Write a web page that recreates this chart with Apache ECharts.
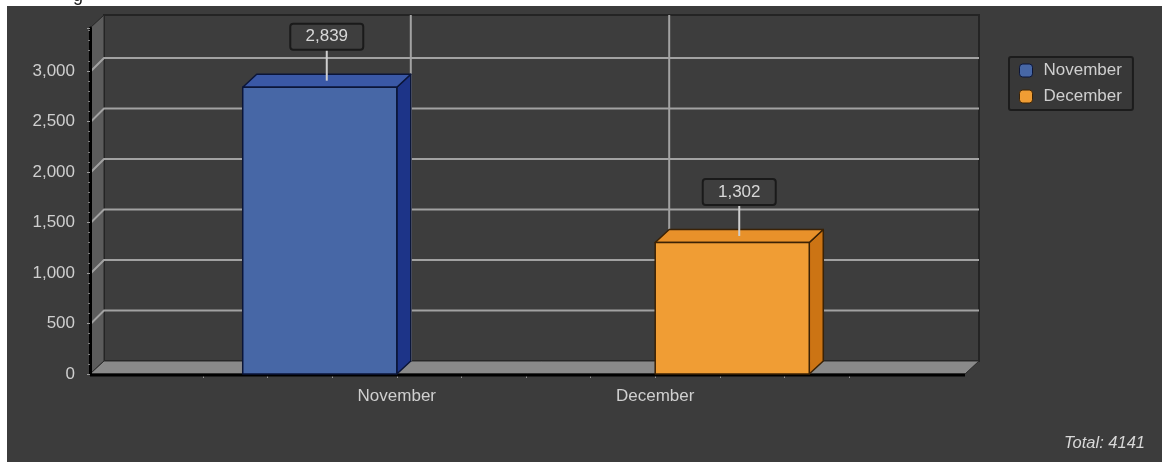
<!DOCTYPE html>
<html>
<head>
<meta charset="utf-8">
<script src="https://cdn.jsdelivr.net/npm/echarts@6/dist/echarts.min.js"></script>
<style>
  html, body { margin: 0; padding: 0; background: #fff; }
  .wrap { position: relative; width: 1162px; height: 462px; overflow: hidden; }
  .panel { position: absolute; left: 7px; top: 6px; width: 1155px; height: 456px; background: #3c3c3c; }
  #chart { position: absolute; left: 0; top: 0; width: 1162px; height: 462px; }
</style>
</head>
<body>
<div class="wrap">
  <div class="panel"></div>
  <div id="chart"></div>
</div>
<script>
// data
const months = ['November', 'December']
const visits = [2839, 1302]
const yTicks = [0, 500, 1000, 1500, 2000, 2500, 3000]
const xTickLabels = ['', '', '', 'November', '', '', '', 'December', '', '', '']

// look
const FONT = '"Liberation Sans", Arial, sans-serif'
const FS = 17
const frontColors = ['#4767a6', '#f09d34']
const topColors = ['#3a58a6', '#e8912a']
const sideColors = ['#1d3488', '#cc7414']
const edgeColors = ['#0b1538', '#3b2205']
const DX = 14, DY = -13      // depth of the fake 3d
const Y_MAX = 3425
const BAR_STEPS = 2.385      // bar width in x tick steps

const total = visits.reduce((a, b) => a + b, 0)

const chart = echarts.init(document.getElementById('chart'))

// walls, floor and grid lines
const renderFrame = (params, api) => {
  const cs = params.coordSys
  const x0 = cs.x, x1 = cs.x + cs.width
  const top = cs.y, y0 = cs.y + cs.height
  const y = api.coord([0, api.value(0)])[1]
  const children = []
  if (params.dataIndex === 0) {
    children.push({
      type: 'polygon',
      shape: { points: [[x0 + DX, top + DY], [x1 + DX, top + DY], [x1 + DX, y0 + DY], [x0 + DX, y0 + DY]] },
      style: { fill: '#3d3d3d', stroke: '#242424', lineWidth: 2 }
    })
    children.push({
      type: 'polygon',
      shape: { points: [[x0, top], [x0 + DX, top + DY], [x0 + DX, y0 + DY], [x0, y0]] },
      style: { fill: '#5c5c5c', stroke: '#262626', lineWidth: 1 }
    })
    children.push({
      type: 'polygon',
      shape: { points: [[x0, y0], [x0 + DX, y0 + DY], [x1 + DX, y0 + DY], [x1, y0]] },
      style: { fill: '#8a8a8a', stroke: '#2a2a2a', lineWidth: 1 }
    })
    children.push({
      type: 'line',
      shape: { x1: x0, y1: y0 + 1, x2: x1, y2: y0 + 1 },
      style: { stroke: '#000', lineWidth: 3 }
    })
  } else {
    children.push({
      type: 'polyline',
      shape: { points: [[x0 + 1, y], [x0 + DX, y + DY], [x1 + DX, y + DY]] },
      style: { stroke: '#a2a2a2', lineWidth: 2, fill: null }
    })
  }
  return { type: 'group', children }
}

const makeBar = (i) => (params, api) => {
  const t = api.value(0)
  const v = api.value(1)
  const base = api.coord([t, 0])
  const yt = api.coord([t, v])[1]
  const yb = base[1]
  const step = api.size([1, 0])[0]
  const w = step * BAR_STEPS
  const left = i < months.length / 2 ? base[0] - w : base[0]
  const right = left + w
  const gridTop = params.coordSys.y
  const cx = (left + right) / 2 + DX / 2
  const cy = yt + DY / 2
  const boxH = 26, boxW = 73
  const boxY = cy - 44 - boxH / 2
  const edge = { stroke: edgeColors[i], lineWidth: 1.5, lineJoin: 'round' }
  return {
    type: 'group',
    children: [
      {
        type: 'line',
        shape: { x1: base[0] + DX, y1: gridTop + DY, x2: base[0] + DX, y2: yb + DY },
        style: { stroke: '#a2a2a2', lineWidth: 2 }
      },
      {
        type: 'polygon',
        shape: { points: [[right, yt], [right + DX, yt + DY], [right + DX, yb + DY], [right, yb]] },
        style: Object.assign({ fill: sideColors[i] }, edge)
      },
      {
        type: 'polygon',
        shape: { points: [[left, yt], [left + DX, yt + DY], [right + DX, yt + DY], [right, yt]] },
        style: Object.assign({ fill: topColors[i] }, edge)
      },
      {
        type: 'rect',
        shape: { x: left, y: yt, width: w, height: yb - yt },
        style: Object.assign({ fill: frontColors[i] }, edge)
      },
      {
        type: 'line',
        shape: { x1: cx, y1: cy, x2: cx, y2: boxY + boxH },
        style: { stroke: '#cfcfcf', lineWidth: 2 }
      },
      {
        type: 'rect',
        shape: { x: cx - boxW / 2, y: boxY, width: boxW, height: boxH, r: 3 },
        style: { fill: '#3e3e3e', stroke: '#1a1a1a', lineWidth: 2 }
      },
      {
        type: 'text',
        x: cx, y: boxY + boxH / 2,
        style: {
          text: v.toLocaleString('en-US'),
          fill: '#d8d8d8', fontSize: FS, fontFamily: FONT,
          align: 'center', verticalAlign: 'middle'
        }
      }
    ]
  }
}

chart.setOption({
  animation: false,
  backgroundColor: 'transparent',
  textStyle: { fontFamily: FONT },
  title: {
    text: 'Total: ' + total,
    right: 12,
    bottom: 5,
    textStyle: { color: '#d8d8d8', fontStyle: 'italic', fontWeight: 'normal', fontSize: 16.5, fontFamily: FONT }
  },
  legend: {
    orient: 'vertical',
    left: 1009,
    top: 57,
    padding: [5, 11, 5, 10],
    itemGap: 9,
    itemWidth: 13,
    itemHeight: 13,
    selectedMode: false,
    backgroundColor: '#383838',
    borderColor: '#1c1c1c',
    borderWidth: 2,
    borderRadius: 2,
    textStyle: { color: '#cfcfcf', fontSize: FS, fontFamily: FONT, padding: [0, 0, 0, 6] },
    data: months.map((m, i) => ({
      name: m,
      icon: 'roundRect',
      itemStyle: { color: frontColors[i], borderColor: edgeColors[i], borderWidth: 1 }
    }))
  },
  graphic: [
    {
      type: 'text', x: 73, y: -13,
      style: { text: 'g', fontSize: 18, fontFamily: FONT, fill: '#1a1a1a', verticalAlign: 'top' }
    }
  ],
  grid: [
    { left: 90, right: 197, top: 28, bottom: 88 },
    { left: 203, right: 313, top: 28, bottom: 88 }
  ],
  xAxis: [
    { type: 'value', gridIndex: 0, min: 0, max: 1, show: false },
    {
      type: 'category',
      gridIndex: 1,
      data: xTickLabels,
      boundaryGap: false,
      axisLine: { show: false },
      axisTick: { show: true, interval: 0, length: 4, lineStyle: { color: '#9a9a9a' } },
      axisLabel: { interval: 0, color: '#cfcfcf', fontSize: FS, margin: 14 },
      splitLine: { show: false }
    }
  ],
  yAxis: [
    {
      type: 'value',
      gridIndex: 0,
      min: 0,
      max: Y_MAX,
      interval: 500,
      z: 10,
      axisLine: { show: true, lineStyle: { color: '#000', width: 3 } },
      axisTick: { show: true, length: 3, lineStyle: { color: '#9a9a9a' } },
      minorTick: { show: true, splitNumber: 5, length: 2, lineStyle: { color: '#7a7a7a' } },
      axisLabel: {
        color: '#cfcfcf', fontSize: FS, margin: 15, showMaxLabel: false,
        formatter: v => v.toLocaleString('en-US')
      },
      splitLine: { show: false }
    },
    { type: 'value', gridIndex: 1, min: 0, max: Y_MAX, show: false }
  ],
  series: [
    {
      type: 'custom',
      name: 'frame',
      xAxisIndex: 0,
      yAxisIndex: 0,
      z: 1,
      silent: true,
      data: yTicks.map(v => [v]),
      encode: { y: 0 },
      renderItem: renderFrame
    }
  ].concat(months.map((m, i) => ({
    type: 'custom',
    name: m,
    xAxisIndex: 1,
    yAxisIndex: 1,
    z: 2,
    itemStyle: { color: frontColors[i] },
    data: [[xTickLabels.indexOf(m), visits[i]]],
    encode: { x: 0, y: 1 },
    renderItem: makeBar(i)
  })))
})
</script>
</body>
</html>
